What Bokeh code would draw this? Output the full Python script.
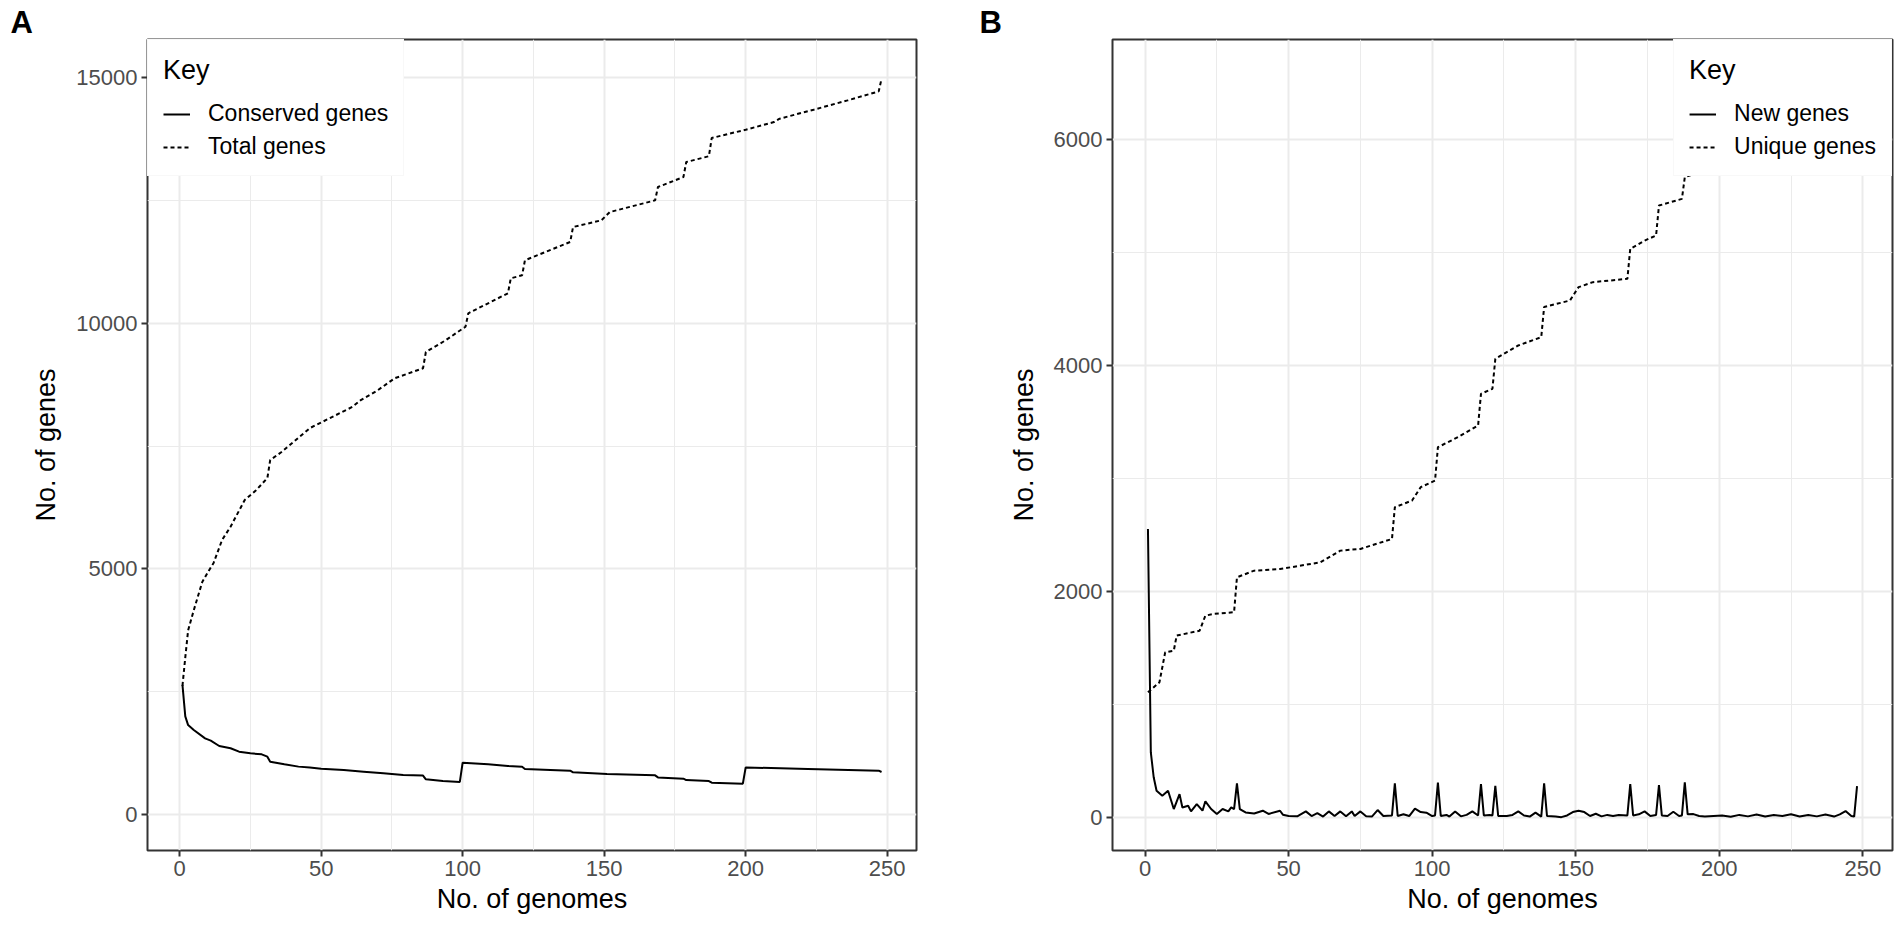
from bokeh.plotting import figure
from bokeh.models import Range1d, FixedTicker, Legend, LegendItem
from bokeh.layouts import row
from bokeh.embed import file_html
from bokeh.resources import INLINE

# ---------------- data ----------------
genomes_total = [1, 2, 3, 5, 8, 10, 12, 15, 18, 23, 27, 31, 32, 36, 46, 53, 61, 64, 70, 76,
                 86, 87, 94, 101, 102, 116, 117, 121, 122, 138, 139, 149, 152, 168, 169, 178,
                 179, 187, 188, 200, 210, 212, 224, 236, 247, 248]
total_genes = [2620, 3200, 3750, 4160, 4735, 4935, 5122, 5590, 5860, 6404, 6600, 6850, 7216,
               7380, 7866, 8067, 8297, 8436, 8637, 8881, 9084, 9416, 9654, 9930, 10203, 10610,
               10915, 10976, 11281, 11654, 11959, 12095, 12264, 12502, 12773, 12976, 13281,
               13400, 13770, 13939, 14095, 14163, 14346, 14536, 14719, 14976]

genomes_conserved = [1, 2, 3, 5, 9, 11, 14, 18, 21, 25, 29, 31, 32, 37, 42, 46, 50, 58, 65, 72,
                     79, 86, 87, 93, 99, 100, 109, 116, 121, 122, 131, 138, 139, 151, 168, 169,
                     178, 179, 187, 188, 199, 200, 222, 247, 248]
conserved_genes = [2640, 2000, 1822, 1722, 1553, 1505, 1397, 1350, 1282, 1248, 1227, 1180, 1078,
                   1024, 977, 957, 936, 909, 875, 841, 807, 794, 719, 685, 665, 1058, 1024, 990,
                   975, 929, 909, 894, 860, 826, 800, 758, 732, 704, 684, 650, 630, 961, 928,
                   894, 867]

genomes_unique = [1, 5, 7, 10, 11, 19, 21, 24, 31, 32, 38, 47, 61, 68, 75, 86, 87, 93, 96, 101,
                  102, 109, 116, 117, 121, 122, 130, 138, 139, 148, 151, 156, 168, 169, 174, 178,
                  179, 187, 188, 199, 210, 225, 238, 247, 248]
unique_genes = [1109, 1198, 1463, 1478, 1611, 1655, 1788, 1803, 1818, 2127, 2186, 2200, 2259,
                2363, 2378, 2466, 2747, 2806, 2924, 2983, 3278, 3367, 3470, 3750, 3795, 4060,
                4178, 4252, 4518, 4576, 4694, 4738, 4768, 5033, 5106, 5151, 5416, 5475, 5667,
                5760, 5860, 5990, 6120, 6270, 6560]

genomes_new = [1, 2, 3, 4, 6, 8, 10, 12, 13, 15, 16, 18, 20, 21, 23, 25, 27, 29, 30, 31,
               32, 33, 35, 38, 41, 43, 47, 48, 50, 53, 56, 58, 60, 62, 64, 66, 68, 70, 72, 73,
               75, 77, 79, 81, 83, 86, 87, 88, 90, 92, 94, 96, 98, 100, 101, 102, 103, 105, 106, 108,
               110, 112, 114, 116, 117, 118, 120, 121, 122, 123, 126, 128, 130, 132, 134, 136, 138,
               139, 140, 143, 145, 147, 149, 151, 153, 155, 157, 159, 161, 163, 165, 168, 169, 170,
               172, 174, 176, 178, 179, 180, 182, 184, 186, 187, 188, 189, 191, 193, 195, 198,
               201, 204, 207, 210, 213, 216, 219, 222, 225, 228, 231, 234, 237, 240, 242, 244,
               246, 247, 248]
new_genes = [2555, 578, 358, 239, 195, 239, 77, 209, 91, 106, 56, 121, 62, 145, 77, 33, 77, 56,
             91, 77, 304, 77, 47, 38, 62, 33, 62, 27, 15, 12, 56, 15, 40, 10, 56, 15, 56, 12,
             56, 15, 56, 12, 10, 68, 15, 20, 304, 15, 30, 15, 80, 50, 45, 15, 20, 310, 15, 25,
             10, 56, 12, 25, 56, 20, 298, 20, 25, 20, 283, 15, 15, 25, 56, 20, 10, 45, 10, 304,
             15, 10, 5, 20, 50, 62, 50, 15, 35, 12, 25, 15, 25, 20, 298, 20, 30, 56, 15, 25,
             289, 20, 15, 53, 15, 20, 312, 30, 32, 15, 10, 15, 20, 8, 25, 12, 28, 10, 25, 15,
             30, 10, 25, 12, 28, 10, 30, 59, 15, 10, 280]

x_ticks = [0, 50, 100, 150, 200, 250]
x_tick_labels = ["0", "50", "100", "150", "200", "250"]
x_minor_ticks = [25, 75, 125, 175, 225]

a_y_ticks = [0, 5000, 10000, 15000]
a_y_tick_labels = ["0", "5000", "10000", "15000"]
a_y_minor_ticks = [2500, 7500, 12500]

b_y_ticks = [0, 2000, 4000, 6000]
b_y_tick_labels = ["0", "2000", "4000", "6000"]
b_y_minor_ticks = [1000, 3000, 5000]

a_series = ["Conserved genes", "Total genes"]
b_series = ["New genes", "Unique genes"]
legend_title = "Key"
x_title = "No. of genomes"
y_title = "No. of genes"
tags = ["A", "B"]

# ---------------- styling ----------------
FONT = "Liberation Sans"
GRID = "#EBEBEB"
DARK = "#333333"
TICK_TXT = "#4D4D4D"
DASH = "4 3"
LW = 2
FIG_H = 923

X_RANGE = (-11.35, 260.35)


def make_fig(width, border_left, border_right, y_range, y_ticks, y_labels, y_minor, tag, tag_offset):
    p = figure(width=width, height=FIG_H,
               x_range=Range1d(*X_RANGE), y_range=Range1d(*y_range),
               output_backend="svg", toolbar_location=None,
               min_border_left=border_left, min_border_right=border_right,
               min_border_top=39, min_border_bottom=FIG_H - 850)
    p.background_fill_color = "white"
    p.border_fill_color = "white"
    p.outline_line_color = DARK
    p.outline_line_width = 2

    # panel tag as a left-aligned title sitting in the top border
    p.title.text = tag
    p.title.align = "left"
    p.title.offset = tag_offset
    p.title.standoff = 0
    p.title.text_font = FONT
    p.title.text_font_size = "31px"
    p.title.text_font_style = "bold"
    p.title.text_color = "black"

    xt = FixedTicker(ticks=x_ticks, minor_ticks=x_minor_ticks)
    yt = FixedTicker(ticks=y_ticks, minor_ticks=y_minor)
    p.xaxis.ticker = xt
    p.yaxis.ticker = yt
    p.xgrid.ticker = xt
    p.ygrid.ticker = yt
    p.xaxis.major_label_overrides = dict(zip(x_ticks, x_tick_labels))
    p.yaxis.major_label_overrides = dict(zip(y_ticks, y_labels))

    for g in (p.xgrid, p.ygrid):
        g.grid_line_color = GRID
        g.grid_line_width = 2
        g.minor_grid_line_color = GRID
        g.minor_grid_line_width = 1

    for ax in (p.xaxis, p.yaxis):
        ax.axis_line_color = None
        ax.major_tick_line_color = DARK
        ax.major_tick_line_width = 2
        ax.major_tick_out = 6
        ax.major_tick_in = 0
        ax.minor_tick_out = 0
        ax.minor_tick_in = 0
        ax.major_label_text_font = FONT
        ax.major_label_text_font_size = "22px"
        ax.major_label_text_color = TICK_TXT
        ax.axis_label_text_font = FONT
        ax.axis_label_text_font_size = "27px"
        ax.axis_label_text_font_style = "normal"
        ax.axis_label_text_color = "black"
    p.xaxis.axis_label = x_title
    p.yaxis.axis_label = y_title
    p.xaxis.major_label_standoff = 4
    p.xaxis.axis_label_standoff = 5
    p.yaxis.major_label_standoff = 4
    p.yaxis.axis_label_standoff = 12
    return p


def style_legend(leg):
    leg.title = legend_title
    leg.title_text_font = FONT
    leg.title_text_font_size = "27px"
    leg.title_text_font_style = "normal"
    leg.title_text_color = "black"
    leg.title_standoff = 14
    leg.label_text_font = FONT
    leg.label_text_font_size = "23px"
    leg.label_text_color = "black"
    leg.margin = 0
    leg.padding = 15
    leg.spacing = 6
    leg.label_standoff = 18
    leg.glyph_width = 27
    leg.glyph_height = 20
    leg.border_line_color = "#F2F2F2"
    leg.border_line_width = 1
    leg.background_fill_color = "white"
    leg.background_fill_alpha = 1.0


# ---------------- panel A ----------------
pa = make_fig(975, 147, 59, (-730, 15775), a_y_ticks, a_y_tick_labels, a_y_minor_ticks,
              tags[0], -137)
ra1 = pa.line(genomes_conserved, conserved_genes, line_color="black", line_width=LW)
ra2 = pa.line(genomes_total, total_genes, line_color="black", line_width=LW, line_dash=DASH)
leg_a = Legend(items=[LegendItem(label=a_series[0], renderers=[ra1]),
                      LegendItem(label=a_series[1], renderers=[ra2])],
               location="top_left")
style_legend(leg_a)
pa.add_layout(leg_a)

# ---------------- panel B ----------------
pb = make_fig(927, 137, 10, (-290, 6885), b_y_ticks, b_y_tick_labels, b_y_minor_ticks,
              tags[1], -133)
rb1 = pb.line(genomes_new, new_genes, line_color="black", line_width=LW)
rb2 = pb.line(genomes_unique, unique_genes, line_color="black", line_width=LW, line_dash=DASH)
leg_b = Legend(items=[LegendItem(label=b_series[0], renderers=[rb1]),
                      LegendItem(label=b_series[1], renderers=[rb2])],
               location="top_right")
style_legend(leg_b)
pb.add_layout(leg_b)

layout = row(pa, pb)
open("out.html", "w").write(file_html(layout, INLINE))
